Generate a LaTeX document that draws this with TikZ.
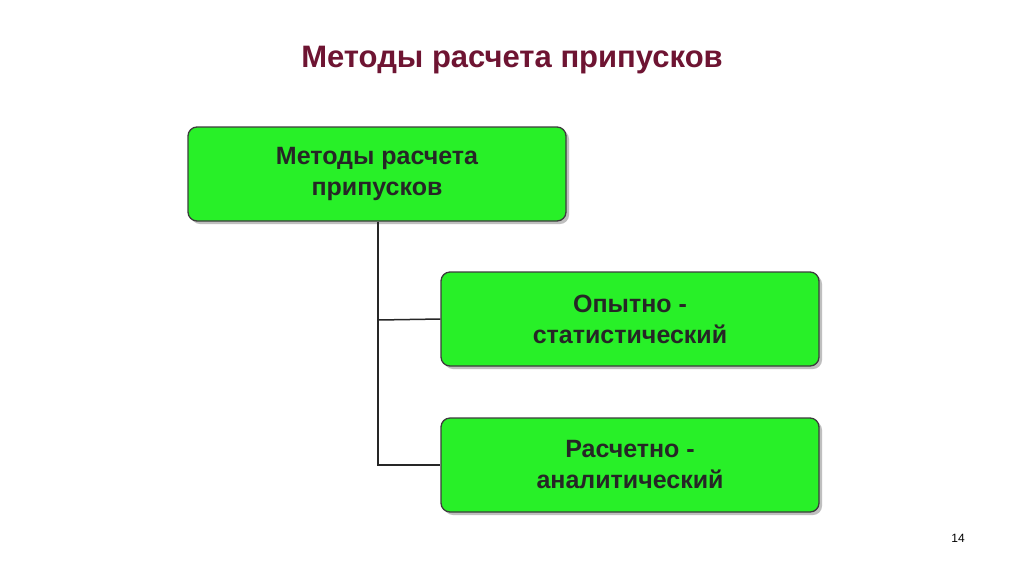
\documentclass[tikz,border=0pt]{standalone}
\usepackage{fontspec}
\setmainfont{Liberation Sans}
\definecolor{titlec}{RGB}{110,20,50}
\definecolor{boxg}{RGB}{40,240,40}
\definecolor{edge}{RGB}{60,60,60}
\begin{document}
\begin{tikzpicture}[x=1pt,y=-1pt,
  gbox/.style={draw=edge,line width=1.3pt,fill=boxg,rounded corners=9pt,minimum width=378pt,minimum height=94pt,align=center,font=\bfseries\fontsize{25}{31}\selectfont,text=black!85},
  conn/.style={draw=black!85,line width=1.5pt}]
\useasboundingbox (0,0) rectangle (1024,574);
\fill[white] (0,0) rectangle (1024,574);
\node[text=titlec,font=\bfseries\fontsize{31}{36}\selectfont] (title) at (512,60) {Методы расчета припусков};
\foreach \cx/\cy in {377/174,630/319,630/465}
  \fill[black!25,rounded corners=9pt] (\cx-186,\cy-44) rectangle (\cx+192,\cy+50);
\node[gbox] (m) at (377,174) {Методы расчета\\припусков};
\node[gbox] (o) at (630,319) {Опытно -\\статистический};
\node[gbox] (r) at (630,465) {Расчетно -\\аналитический};
\coordinate (top) at (378,220);
\coordinate (j1) at (378,320);
\coordinate (j2) at (378,465);
\draw[conn] (m.south -| top) -- (j2) -- (r.west);
\draw[conn] (j1) -- (o.west);
\node[font=\fontsize{12}{14}\selectfont] (pg) at (958,538) {14};
\end{tikzpicture}
\end{document}
